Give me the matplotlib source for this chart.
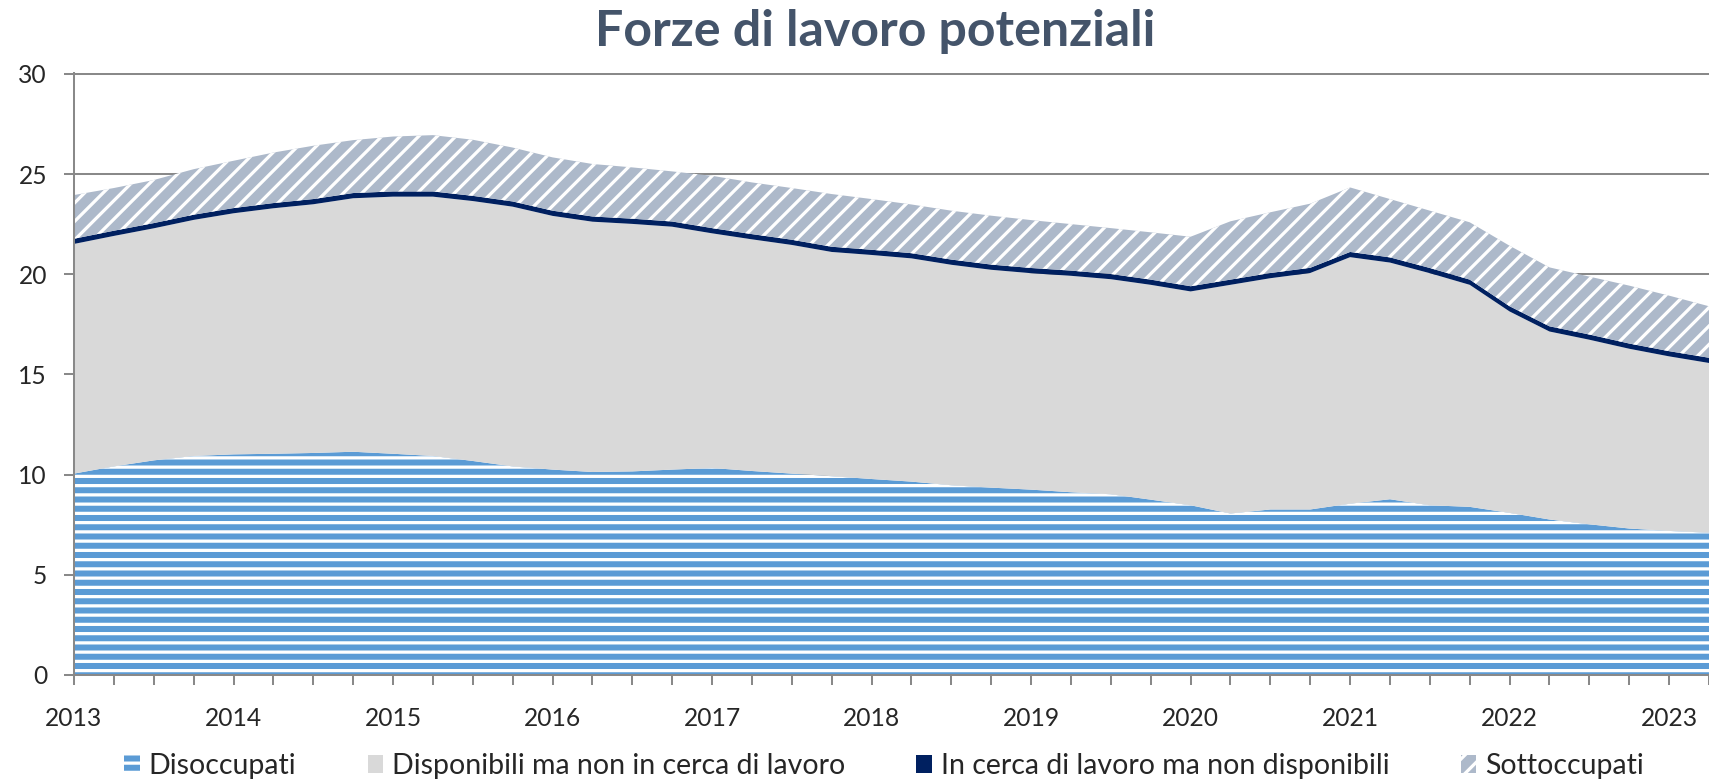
import numpy as np
import pandas as pd
import matplotlib
matplotlib.use('Agg')
import matplotlib.pyplot as plt

plt.rcParams['font.family'] = ['Lato', 'DejaVu Sans']
plt.rcParams['hatch.linewidth'] = 2.1

DPI = 111
TITLE = 'Forze di lavoro potenziali'
SERIES = ['Disoccupati', 'Disponibili ma non in cerca di lavoro',
          'In cerca di lavoro ma non disponibili', 'Sottoccupati']
periods = pd.period_range('2013Q1', periods=42, freq='Q')

disoccupati = [10.05, 10.41, 10.71, 10.93, 11.01, 11.04, 11.08, 11.14, 11.04, 10.93,
               10.68, 10.41, 10.25, 10.13, 10.16, 10.25, 10.33, 10.18, 10.05, 9.92,
               9.78, 9.65, 9.47, 9.35, 9.25, 9.12, 9.02, 8.75, 8.47, 8.06,
               8.26, 8.26, 8.55, 8.77, 8.47, 8.39, 8.09, 7.76, 7.52, 7.31,
               7.19, 7.10]
disponibili = [11.46, 11.50, 11.58, 11.78, 12.03, 12.25, 12.41, 12.65, 12.83, 12.94,
               12.97, 12.96, 12.66, 12.49, 12.35, 12.12, 11.71, 11.56, 11.41, 11.19,
               11.18, 11.14, 11.00, 10.87, 10.80, 10.80, 10.73, 10.72, 10.67, 11.41,
               11.54, 11.80, 12.30, 11.81, 11.58, 11.08, 10.05, 9.38, 9.21, 8.97,
               8.71, 8.47]
in_cerca = [0.26, 0.26, 0.26, 0.26, 0.26, 0.26, 0.26, 0.26, 0.26, 0.26,
            0.26, 0.26, 0.26, 0.26, 0.26, 0.26, 0.26, 0.26, 0.26, 0.26,
            0.26, 0.26, 0.26, 0.26, 0.26, 0.26, 0.26, 0.26, 0.26, 0.26,
            0.26, 0.26, 0.26, 0.26, 0.26, 0.26, 0.26, 0.26, 0.26, 0.26,
            0.26, 0.26]
sottoccupati = [2.18, 2.13, 2.15, 2.27, 2.36, 2.52, 2.66, 2.64, 2.74, 2.81,
                2.80, 2.69, 2.66, 2.62, 2.56, 2.50, 2.61, 2.58, 2.58, 2.63,
                2.53, 2.43, 2.44, 2.44, 2.39, 2.32, 2.29, 2.36, 2.47, 2.91,
                3.03, 3.20, 3.22, 2.91, 2.86, 2.86, 3.02, 2.94, 2.89, 2.89,
                2.77, 2.57]

x = periods.year + (periods.quarter - 1) / 4

fig = plt.figure(figsize=(1709 / DPI, 781 / DPI), dpi=DPI)
ax = fig.add_axes([74 / 1709, 106 / 781, (1709 - 74) / 1709, 602 / 781])

polys = ax.stackplot(x, disoccupati, disponibili, in_cerca, sottoccupati,
                     colors=['#5B9BD5', '#D9D9D9', '#002060', '#ADB9CA'],
                     hatch=['--', '', '', '//'], edgecolor='white',
                     linewidth=0, labels=SERIES, zorder=2)

ax.set_xlim(2013, 2023 + 30 / 160.5)
ax.set_ylim(0, 30.04)
ax.set_yticks(range(0, 31, 5))
ax.set_xticks(range(2013, 2024))
ax.set_xticks(x, minor=True)
ax.yaxis.grid(True, color='#898989', linewidth=1.3, zorder=0)
ax.set_axisbelow(True)
for s in ('top', 'right'):
    ax.spines[s].set_visible(False)
for s in ('left', 'bottom'):
    ax.spines[s].set_color('#898989')
    ax.spines[s].set_linewidth(1.3)
ax.tick_params(axis='both', which='both', color='#898989', width=1.3,
               length=6.5, direction='out', labelsize=16, labelcolor='#262626')
ax.tick_params(axis='y', pad=11)
ax.tick_params(axis='x', pad=14)

fig.text(875 / 1709, 1 - 31 / 781, TITLE, ha='center', va='center',
         fontsize=32.5, fontweight='bold', color='#44546A')

fig.legend(polys, SERIES, loc='center', bbox_to_anchor=(884 / 1709, 1 - 766 / 781),
           ncol=4, frameon=False, fontsize=18.5, handlelength=0.55, handleheight=0.55,
           handletextpad=0.3, columnspacing=2.5, labelcolor='#262626')

fig.savefig('out.png', dpi=DPI)
